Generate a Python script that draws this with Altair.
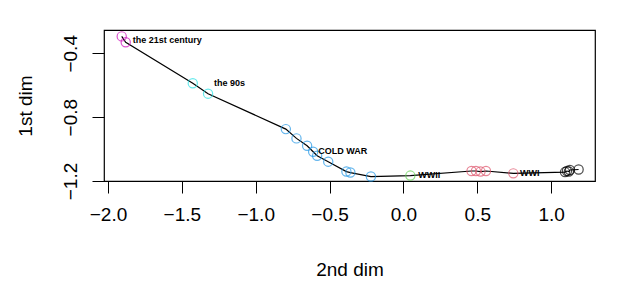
import altair as alt
import pandas as pd

# point coordinates along the path (2nd dim = x, 1st dim = y), in path order
dim2 = [-1.907, -1.880,
        -1.426, -1.3225,
        -0.796, -0.724, -0.652, -0.611, -0.584, -0.509, -0.386, -0.359, -0.220,
        0.047,
        0.461, 0.491, 0.522, 0.559, 0.744,
        1.094, 1.107, 1.120, 1.127, 1.186]
dim1 = [-0.294, -0.331,
        -0.5875, -0.653,
        -0.875, -0.933, -0.979, -1.017, -1.042, -1.079, -1.141, -1.147, -1.172,
        -1.166,
        -1.1375, -1.1375, -1.141, -1.1375, -1.152,
        -1.144, -1.1375, -1.141, -1.131, -1.128]
period = (["21st"] * 2 + ["90s"] * 2 + ["cold"] * 9 + ["wwii"] * 1 +
          ["wwi"] * 5 + ["early"] * 5)

period_domain = ["early", "wwi", "wwii", "cold", "90s", "21st"]
period_colors = ["#000000", "#DF536B", "#61D04F", "#2297E6", "#28E2E5", "#CD0BBC"]

label_text = ["the 21st century", "the 90s", "COLD WAR", "WWII", "WWI"]
label_x = [-1.833, -1.282, -0.577, 0.100, 0.789]
label_y = [-0.319, -0.586, -1.011, -1.1625, -1.153]

x_ticks = [-2.0, -1.5, -1.0, -0.5, 0.0, 0.5, 1.0]
y_ticks = [-1.2, -1.0, -0.8, -0.6, -0.4]

pts = pd.DataFrame({"dim2": dim2, "dim1": dim1, "period": period,
                    "idx": list(range(len(dim2)))})
labs = pd.DataFrame({"text": label_text, "x": label_x, "y": label_y})

FONT = "Liberation Sans"

xscale = alt.Scale(domain=[-2.027, 1.297], nice=False, zero=False)
yscale = alt.Scale(domain=[-1.2, -0.254], nice=False, zero=False)

xaxis = alt.Axis(values=x_ticks, format=".1f", title="2nd dim", grid=False,
                 domain=False, tickColor="black", tickSize=12, tickWidth=1,
                 labelFontSize=19, labelColor="black", labelFont=FONT,
                 labelPadding=12, labelFlush=False, labelOverlap=False,
                 titleFontSize=19, titleFont=FONT, titleFontWeight="normal",
                 titleColor="black", titlePadding=36)
yaxis = alt.Axis(values=y_ticks, format=".1f", title="1st dim", grid=False,
                 domain=False, tickColor="black", tickSize=12, tickWidth=1,
                 labelExpr="(abs(datum.value + 0.4) < 0.01 || abs(datum.value + 0.8) < 0.01 || abs(datum.value + 1.2) < 0.01) ? datum.label : ''",
                 labelAngle=-90, labelAlign="center", labelBaseline="bottom",
                 labelFontSize=19, labelColor="black", labelFont=FONT,
                 labelPadding=12, labelFlush=False, labelOverlap=False,
                 titleFontSize=19, titleFont=FONT, titleFontWeight="normal",
                 titleColor="black", titlePadding=26)

base = alt.Chart(pts)

line = base.mark_line(color="black", strokeWidth=1.2).encode(
    x=alt.X("dim2:Q", scale=xscale, axis=xaxis),
    y=alt.Y("dim1:Q", scale=yscale, axis=yaxis),
    order="idx:Q",
)

points = base.mark_point(shape="circle", filled=False, size=85, strokeWidth=1.2).encode(
    x=alt.X("dim2:Q", scale=xscale),
    y=alt.Y("dim1:Q", scale=yscale),
    color=alt.Color("period:N", scale=alt.Scale(domain=period_domain, range=period_colors),
                    legend=None),
)

text = alt.Chart(labs).mark_text(align="left", baseline="middle", fontSize=9,
                                 fontWeight="bold", font=FONT, color="black").encode(
    x=alt.X("x:Q", scale=xscale),
    y=alt.Y("y:Q", scale=yscale),
    text="text:N",
)

chart = alt.layer(line, points, text).properties(
    width=491, height=151,
    background="white",
    autosize=alt.AutoSizeParams(type="none"),
    padding={"left": 96, "top": 22, "right": 37, "bottom": 111},
).configure_view(stroke="black", strokeWidth=1.2)

chart.save("out.html", embed_options={"renderer": "svg", "actions": False})
